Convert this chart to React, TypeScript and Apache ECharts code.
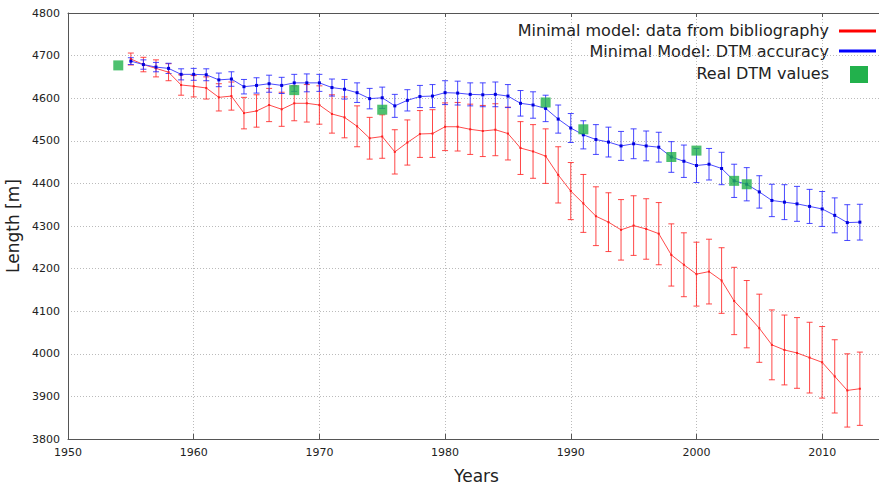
import React, { useEffect, useRef } from "react";
import * as echarts from "echarts";

const years = [
  1955, 1956, 1957, 1958, 1959, 1960, 1961, 1962, 1963, 1964,
  1965, 1966, 1967, 1968, 1969, 1970, 1971, 1972, 1973, 1974,
  1975, 1976, 1977, 1978, 1979, 1980, 1981, 1982, 1983, 1984,
  1985, 1986, 1987, 1988, 1989, 1990, 1991, 1992, 1993, 1994,
  1995, 1996, 1997, 1998, 1999, 2000, 2001, 2002, 2003, 2004,
  2005, 2006, 2007, 2008, 2009, 2010, 2011, 2012, 2013,
];

const redValues = [
  4692, 4679, 4670, 4661, 4631, 4628, 4624, 4602, 4605, 4565,
  4570, 4584, 4574, 4588, 4588, 4584, 4563, 4555, 4534, 4506,
  4510, 4474, 4496, 4516, 4517, 4533, 4533, 4527, 4523, 4526,
  4517, 4483, 4475, 4464, 4420, 4382, 4353, 4323, 4309, 4291,
  4301, 4293, 4282, 4232, 4209, 4187, 4193, 4172, 4124, 4093,
  4060, 4021, 4009, 4002, 3991, 3980, 3947, 3914, 3918,
];

const redErrors = [
  14, 17, 20, 20, 24, 25, 26, 32, 33, 37,
  38, 39, 40, 41, 44, 45, 45, 48, 48, 49,
  51, 52, 53, 55, 56, 56, 57, 59, 60, 61,
  62, 62, 63, 64, 66, 67, 68, 69, 69, 71,
  70, 71, 73, 73, 75, 75, 76, 77, 79, 79,
  80, 82, 82, 83, 83, 84, 86, 86, 86,
];

const blueValues = [
  4687, 4679, 4673, 4670, 4656, 4656, 4655, 4643, 4645, 4627,
  4630, 4634, 4630, 4636, 4636, 4636, 4625, 4621, 4613, 4599,
  4601, 4582, 4595, 4604, 4605, 4613, 4612, 4609, 4608, 4609,
  4605, 4588, 4584, 4576, 4551, 4530, 4514, 4503, 4497, 4488,
  4493, 4488, 4485, 4462, 4452, 4442, 4445, 4435, 4406, 4398,
  4380, 4360, 4356, 4352, 4346, 4340, 4325, 4308, 4309,
];

const blueErrors = [
  8, 11, 11, 12, 13, 14, 14, 16, 17, 17,
  18, 20, 19, 20, 21, 20, 20, 23, 23, 24,
  25, 27, 25, 26, 27, 28, 28, 27, 28, 29,
  27, 30, 31, 31, 33, 34, 33, 35, 35, 34,
  35, 35, 35, 36, 38, 40, 37, 38, 39, 39,
  38, 38, 41, 41, 40, 41, 41, 42, 42,
];

const dtmYears = [1954, 1968, 1975, 1988, 1991, 1998, 2000, 2003, 2004];
const dtmValues = [4677, 4619, 4573, 4590, 4527, 4462, 4477, 4406, 4398];

const legendLabels = [
  "Minimal model: data from bibliography",
  "Minimal Model: DTM accuracy",
  "Real DTM values",
];

const FONT = '"DejaVu Sans", Verdana, sans-serif';

function errorBars(name: string, values: number[], errors: number[], color: string) {
  return {
    type: "custom",
    name,
    silent: true,
    z: 2,
    data: years.map((y, i) => [y, values[i] - errors[i], values[i] + errors[i]]),
    encode: { x: 0, y: [1, 2] },
    renderItem: (_params: any, api: any) => {
      const lo = api.coord([api.value(0), api.value(1)]);
      const hi = api.coord([api.value(0), api.value(2)]);
      const hw = 3;
      const style = { stroke: color, lineWidth: 1 };
      return {
        type: "group",
        children: [
          { type: "line", shape: { x1: lo[0], y1: lo[1], x2: hi[0], y2: hi[1] }, style },
          { type: "line", shape: { x1: lo[0] - hw, y1: lo[1], x2: lo[0] + hw, y2: lo[1] }, style },
          { type: "line", shape: { x1: hi[0] - hw, y1: hi[1], x2: hi[0] + hw, y2: hi[1] }, style },
        ],
      };
    },
  };
}

export default function App() {
  const ref = useRef<HTMLDivElement>(null);

  useEffect(() => {
    if (!ref.current) return;
    const chart = echarts.init(ref.current, null, { renderer: "svg" });
    const axisLabel = {
      color: "#222",
      fontSize: 11,
      fontFamily: FONT,
      formatter: (v: number) => String(v),
    };
    chart.setOption({
      animation: false,
      backgroundColor: "#ffffff",
      grid: { left: 68, right: 1, top: 13, bottom: 47, outerBoundsMode: "none", containLabel: false },
      xAxis: [
        {
          type: "value",
          min: 1950,
          max: 2015,
          interval: 10,
          name: "Years",
          nameLocation: "middle",
          nameGap: 28,
          nameTextStyle: { color: "#222", fontSize: 17, fontFamily: FONT },
          axisLine: { show: true, lineStyle: { color: "#555", width: 1 } },
          axisTick: { show: true, inside: true, length: 5, lineStyle: { color: "#555" } },
          axisLabel: { ...axisLabel, margin: 8, showMaxLabel: false },
          splitLine: { show: true, lineStyle: { color: "#bbb", type: [1, 2], width: 1 } },
        },
        {
          type: "value",
          position: "top",
          min: 1950,
          max: 2015,
          interval: 10,
          axisLine: { show: true, onZero: false, lineStyle: { color: "#555", width: 1 } },
          axisTick: { show: true, inside: true, length: 4, lineStyle: { color: "#555" } },
          axisLabel: { show: false },
          splitLine: { show: false },
        },
      ],
      yAxis: {
        type: "value",
        min: 3800,
        max: 4800,
        interval: 100,
        name: "Length [m]",
        nameLocation: "middle",
        nameGap: 43,
        nameTextStyle: { color: "#222", fontSize: 17, fontFamily: FONT },
        axisLine: { show: true, lineStyle: { color: "#555", width: 1 } },
        axisTick: { show: false },
        axisLabel: { ...axisLabel, margin: 8 },
        splitLine: { show: true, lineStyle: { color: "#bbb", type: [1, 2], width: 1 } },
      },
      series: [
        errorBars("redErr", redValues, redErrors, "rgba(255,40,40,0.85)"),
        {
          type: "line",
          name: legendLabels[0],
          data: years.map((y, i) => [y, redValues[i]]),
          symbol: "rect",
          symbolSize: 2,
          itemStyle: { color: "#ff2020" },
          lineStyle: { color: "#ff4a4a", width: 1 },
          z: 3,
          silent: true,
        },
        errorBars("blueErr", blueValues, blueErrors, "rgba(40,40,255,0.85)"),
        {
          type: "line",
          name: legendLabels[1],
          data: years.map((y, i) => [y, blueValues[i]]),
          symbol: "rect",
          symbolSize: 3,
          itemStyle: { color: "#0000dd" },
          lineStyle: { color: "#4a4aff", width: 1 },
          z: 4,
          silent: true,
        },
        {
          type: "scatter",
          name: legendLabels[2],
          data: dtmYears.map((y, i) => [y, dtmValues[i]]),
          symbol: "rect",
          symbolSize: 10,
          itemStyle: { color: "#22b14c" },
          z: 5,
          silent: true,
        },
      ],
      graphic: [
        {
          type: "text",
          x: 829,
          y: 30,
          style: { text: legendLabels[0], align: "right", verticalAlign: "middle", fontSize: 16, fontFamily: FONT, fill: "#222" },
        },
        { type: "line", shape: { x1: 839, y1: 31, x2: 876, y2: 31 }, style: { stroke: "#ff0000", lineWidth: 3 } },
        {
          type: "text",
          x: 829,
          y: 51,
          style: { text: legendLabels[1], align: "right", verticalAlign: "middle", fontSize: 16, fontFamily: FONT, fill: "#222" },
        },
        { type: "line", shape: { x1: 839, y1: 51, x2: 876, y2: 51 }, style: { stroke: "#0000ff", lineWidth: 3 } },
        {
          type: "text",
          x: 829,
          y: 73,
          style: { text: legendLabels[2], align: "right", verticalAlign: "middle", fontSize: 16, fontFamily: FONT, fill: "#222" },
        },
        { type: "rect", shape: { x: 850, y: 66, width: 18, height: 17 }, style: { fill: "#22b14c" } },
      ],
    });
    return () => chart.dispose();
  }, []);

  return (
    <div style={{ position: "absolute", left: 0, top: 0, width: 879, height: 486, overflow: "hidden", background: "#fff" }}>
      <div ref={ref} style={{ width: 886, height: 486 }} />
    </div>
  );
}
